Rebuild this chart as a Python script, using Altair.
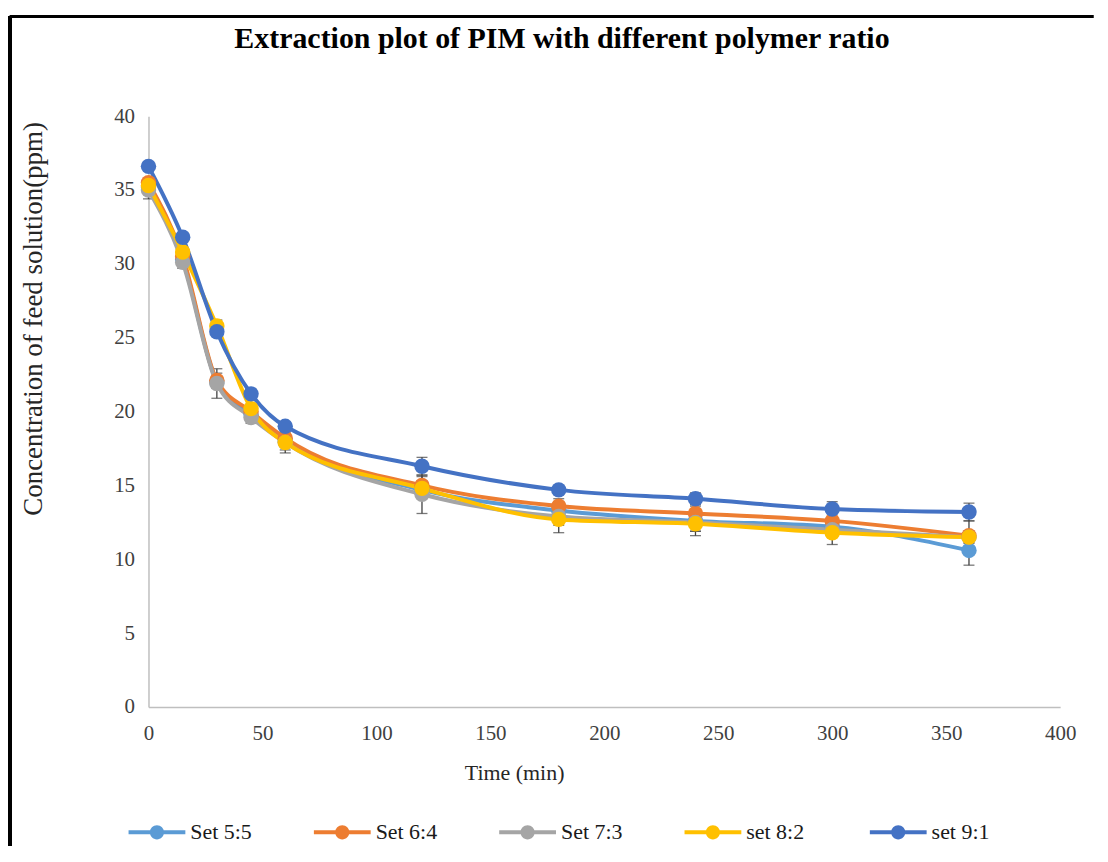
import altair as alt
import pandas as pd

# ---- data ----
times = [0, 15, 30, 45, 60, 120, 180, 240, 300, 360]
series_names = ["Set 5:5", "Set 6:4", "Set 7:3", "set 8:2", "set 9:1"]
series_colors = ["#5B9BD5", "#ED7D31", "#A5A5A5", "#FFC000", "#4472C4"]

set_55 = [35.2, 30.3, 22.0, 19.8, 18.0, 14.7, 13.3, 12.6, 12.2, 10.6]
set_64 = [35.5, 30.5, 22.1, 20.0, 18.2, 15.0, 13.6, 13.1, 12.6, 11.6]
set_73 = [35.0, 30.1, 21.9, 19.6, 17.9, 14.4, 12.9, 12.5, 12.0, 11.5]
set_82 = [35.3, 30.8, 25.8, 20.2, 17.9, 14.8, 12.7, 12.4, 11.8, 11.5]
set_91 = [36.6, 31.8, 25.4, 21.2, 19.0, 16.3, 14.7, 14.1, 13.4, 13.2]

err_55 = [0.3, 0.3, 0.4, 0.3, 0.3, 0.5, 0.6, 0.7, 0.6, 1.0]
err_64 = [0.3, 0.3, 0.5, 0.3, 0.3, 0.6, 0.5, 0.5, 0.5, 1.0]
err_73 = [0.6, 0.4, 1.0, 0.4, 0.5, 1.3, 0.6, 0.6, 0.5, 0.4]
err_82 = [0.3, 0.3, 0.4, 0.3, 0.7, 0.5, 0.9, 0.8, 0.8, 0.4]
err_91 = [0.3, 0.3, 0.3, 0.3, 0.3, 0.6, 0.3, 0.4, 0.5, 0.6]

x_ticks = [0, 50, 100, 150, 200, 250, 300, 350, 400]
y_ticks = [0, 5, 10, 15, 20, 25, 30, 35, 40]

chart_title = ["Extraction plot of PIM with different polymer ratio"]

values = [set_55, set_64, set_73, set_82, set_91]
errors = [err_55, err_64, err_73, err_82, err_91]

rows = []
for si, (name, vals, errs) in enumerate(zip(series_names, values, errors)):
    for t, v, e in zip(times, vals, errs):
        rows.append({"series": name, "order": si, "time": t, "conc": v,
                     "lo": v - e, "hi": v + e})
df = pd.DataFrame(rows)
title_df = pd.DataFrame({"text": chart_title})

FONT = "Liberation Serif"
W, H = 915, 593

# legend symbol: a line with a circle in the middle
SYMBOL = ("M-1,-0.07 L1,-0.07 L1,0.07 L-1,0.07 Z "
          "M-0.25,0 A0.25,0.25 0 1,1 0.25,0 A0.25,0.25 0 1,1 -0.25,0 Z")

color = alt.Color(
    "series:N",
    scale=alt.Scale(domain=series_names, range=series_colors),
    legend=alt.Legend(
        orient="none", direction="horizontal", columns=5,
        legendX=-20, legendY=690, title=None,
        symbolType=SYMBOL, symbolSize=3249, symbolStrokeWidth=0,
        labelFont=FONT, labelFontSize=22, labelColor="#1a1a1a",
        labelOffset=5, columnPadding=62, gridAlign="all",
    ),
)

x_enc = alt.X("time:Q", scale=alt.Scale(domain=[0, 400], nice=False),
              axis=alt.Axis(values=x_ticks, title="Time (min)", grid=False,
                            ticks=False, domainColor="#BFBFBF", domainWidth=1.5,
                            labelFont=FONT, labelFontSize=21, labelColor="#404040",
                            labelPadding=16, labelFlush=False,
                            titleFont=FONT, titleFontSize=22, titleFontWeight="normal",
                            titleColor="#262626", titleX=367, titleY=66,
                            titleBaseline="middle", titleAlign="center"))
y_enc = alt.Y("conc:Q", scale=alt.Scale(domain=[0, 40], nice=False),
              axis=alt.Axis(values=y_ticks, title="Concentration of feed solution(ppm)",
                            grid=False, ticks=False, domainColor="#BFBFBF",
                            domainWidth=1.5,
                            labelFont=FONT, labelFontSize=21, labelColor="#404040",
                            labelPadding=14, labelFlush=False,
                            titleFont=FONT, titleFontSize=27, titleFontWeight="normal",
                            titleColor="#262626", titleX=-115, titleY=203,
                            titleAngle=270, titleBaseline="middle",
                            titleAlign="center"))

base = alt.Chart(df)

err_rule = base.mark_rule(color="#404040", strokeWidth=1.3).encode(
    x="time:Q", y="lo:Q", y2="hi:Q")
cap_lo = base.mark_tick(color="#404040", orient="horizontal", size=11,
                        thickness=1.3).encode(x="time:Q", y="lo:Q")
cap_hi = base.mark_tick(color="#404040", orient="horizontal", size=11,
                        thickness=1.3).encode(x="time:Q", y="hi:Q")

lines = base.mark_line(strokeWidth=4, interpolate="monotone").encode(
    x=x_enc, y=y_enc, color=color, order="time:Q")
points = base.mark_point(filled=True, size=240, opacity=1).encode(
    x="time:Q", y="conc:Q", color=alt.Color("series:N"), order="order:Q")

# chart title as a text mark placed inside the frame
title_mark = alt.Chart(title_df).mark_text(
    font=FONT, fontSize=30, fontWeight="bold", color="black",
    align="center", baseline="alphabetic").encode(
    text="text:N", x=alt.value(415), y=alt.value(-68))

# outer frame (top and left edges visible in the reference)
frame_top = alt.Chart(df).mark_rule(color="black", strokeWidth=3).encode(
    x=alt.value(-139), x2=alt.value(948), y=alt.value(-100))
frame_left = alt.Chart(df).mark_rule(color="black", strokeWidth=3).encode(
    x=alt.value(-139), y=alt.value(-100), y2=alt.value(732))

chart = alt.layer(
    err_rule, cap_lo, cap_hi, lines, points, title_mark, frame_top, frame_left
).properties(
    width=W, height=H,
    background="white",
    padding={"left": 0, "top": 5, "right": 5, "bottom": 5},
).configure_view(stroke=None)

chart.save("out.html", embed_options={"renderer": "svg", "actions": False})
